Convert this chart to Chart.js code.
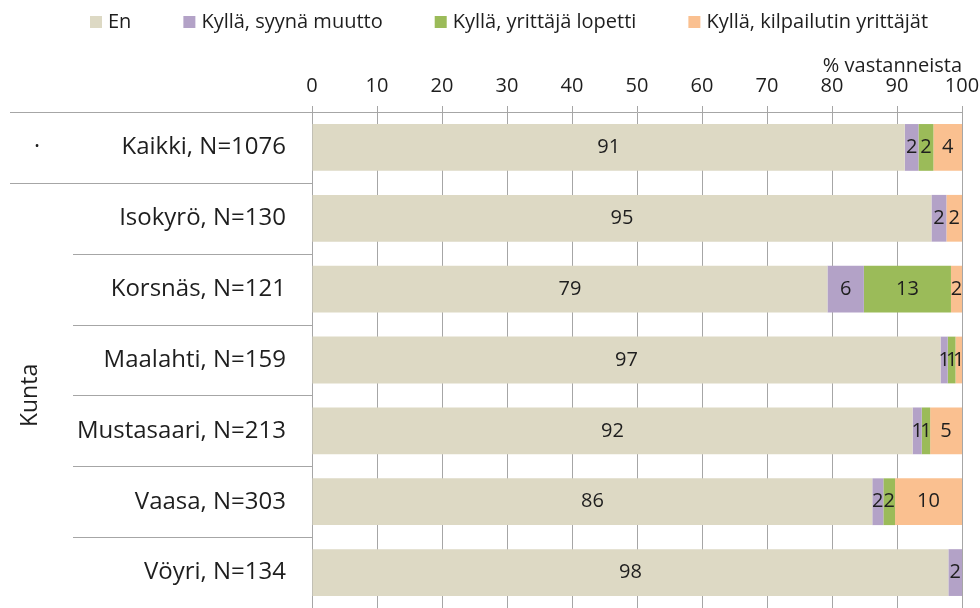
<!DOCTYPE html>
<html lang="fi">
<head>
<meta charset="UTF-8">
<title>Kunta</title>
<script src="https://cdn.jsdelivr.net/npm/chart.js"></script>
<style>
  html, body { margin: 0; padding: 0; background: #fff; }
</style>
</head>
<body>
<canvas id="kaavio" width="980" height="608"></canvas>
<script>
// kategoriat ja sarjat (% vastanneista)
const categories = ['Kaikki, N=1076', 'Isokyrö, N=130', 'Korsnäs, N=121', 'Maalahti, N=159',
                    'Mustasaari, N=213', 'Vaasa, N=303', 'Vöyri, N=134'];
const seriesNames = ['En', 'Kyllä, syynä muutto', 'Kyllä, yrittäjä lopetti', 'Kyllä, kilpailutin yrittäjät'];
const en       = [91.2, 95.3, 79.3, 96.7, 92.4, 86.2, 97.9];
const muutto   = [2.1, 2.3, 5.6, 1.1, 1.4, 1.7, 2.1];
const lopetti  = [2.3, 0, 13.4, 1.2, 1.3, 1.8, 0];
const kilpailu = [4.4, 2.4, 1.7, 1.0, 4.9, 10.3, 0];
const xTicks = [0, 10, 20, 30, 40, 50, 60, 70, 80, 90, 100];
const colors = ['#ddd9c4', '#b3a2c7', '#9bbb59', '#fac090'];

const fontFamily = '"Open Sans", sans-serif';
const gridColor = '#a6a6a6';
const textColor = '#1e1e1e';

// selite ylälaitaan, leveät välit kuten alkuperäisessä
const legendRow = {
  id: 'legendRow',
  afterDraw(chart) {
    const ctx = chart.ctx;
    ctx.save();
    ctx.font = '20px ' + fontFamily;
    ctx.textBaseline = 'middle';
    ctx.textAlign = 'left';
    let x = 90;
    chart.data.datasets.forEach(ds => {
      ctx.fillStyle = ds.backgroundColor;
      ctx.fillRect(x, 16, 12, 12);
      ctx.fillStyle = textColor;
      ctx.fillText(ds.label, x + 18, 22);
      x += 18 + ctx.measureText(ds.label).width + 52;
    });
    ctx.restore();
  }
};

// arvot palkkien keskelle
const valueLabels = {
  id: 'valueLabels',
  afterDatasetsDraw(chart) {
    const ctx = chart.ctx;
    ctx.save();
    ctx.font = '20px ' + fontFamily;
    ctx.fillStyle = textColor;
    ctx.textAlign = 'center';
    ctx.textBaseline = 'middle';
    chart.data.datasets.forEach((ds, i) => {
      chart.getDatasetMeta(i).data.forEach((bar, j) => {
        const v = ds.data[j];
        if (!v) return;
        ctx.fillText(Math.round(v), (bar.x + bar.base) / 2, bar.y);
      });
    });
    ctx.restore();
  }
};

// ryhmäviivat ja ryhmien nimet vasemmalla
const groupLines = {
  id: 'groupLines',
  afterDraw(chart) {
    const ctx = chart.ctx;
    const y = chart.scales.y;
    const area = chart.chartArea;
    const step = y.getPixelForValue(1) - y.getPixelForValue(0);
    ctx.save();
    ctx.strokeStyle = gridColor;
    ctx.lineWidth = 1;
    categories.forEach((c, i) => {
      const top = Math.round(y.getPixelForValue(i) - step / 2) + 0.5;
      ctx.beginPath();
      ctx.moveTo(i < 2 ? 10 : 73, top);
      ctx.lineTo(area.left, top);
      ctx.stroke();
    });
    ctx.fillStyle = textColor;
    ctx.textAlign = 'center';
    ctx.textBaseline = 'middle';
    ctx.font = '23px ' + fontFamily;
    ctx.fillText('·', 37, y.getPixelForValue(0));
    ctx.translate(30, (y.getPixelForValue(1) + y.getPixelForValue(6)) / 2);
    ctx.rotate(-Math.PI / 2);
    ctx.fillText('Kunta', 0, 0);
    ctx.restore();
  }
};

new Chart(document.getElementById('kaavio'), {
  type: 'bar',
  data: {
    labels: categories,
    datasets: [en, muutto, lopetti, kilpailu].map((d, i) => ({
      label: seriesNames[i],
      data: d,
      backgroundColor: colors[i],
      borderWidth: 0,
      categoryPercentage: 1,
      barPercentage: 0.66
    }))
  },
  options: {
    indexAxis: 'y',
    responsive: false,
    animation: false,
    devicePixelRatio: 1,
    layout: { padding: { left: 0, right: 0, top: 42, bottom: 0 } },
    plugins: {
      tooltip: { enabled: false },
      legend: { display: false }
    },
    scales: {
      x: {
        position: 'top',
        stacked: true,
        min: 0,
        max: 100,
        afterBuildTicks: s => { s.ticks = xTicks.map(v => ({ value: v })); },
        afterFit: s => { s.height = 70; s.paddingLeft = 0; s.paddingRight = 18; },
        ticks: {
          color: textColor,
          padding: 10,
          font: { family: fontFamily, size: 20, lineHeight: 1 }
        },
        grid: { color: gridColor, tickLength: 6, tickColor: gridColor },
        border: { display: true, color: gridColor },
        title: {
          display: true,
          text: '% vastanneista',
          align: 'end',
          color: textColor,
          padding: { top: 14, bottom: 0 },
          font: { family: fontFamily, size: 20, lineHeight: 1 }
        }
      },
      y: {
        stacked: true,
        grid: { display: false, drawTicks: false },
        border: { display: false },
        afterFit: s => { s.width = 312; s.paddingTop = 0; s.paddingBottom = 0; },
        ticks: {
          color: textColor,
          padding: 26,
          font: { family: fontFamily, size: 24 }
        }
      }
    }
  },
  plugins: [valueLabels, groupLines, legendRow]
});
</script>
</body>
</html>
